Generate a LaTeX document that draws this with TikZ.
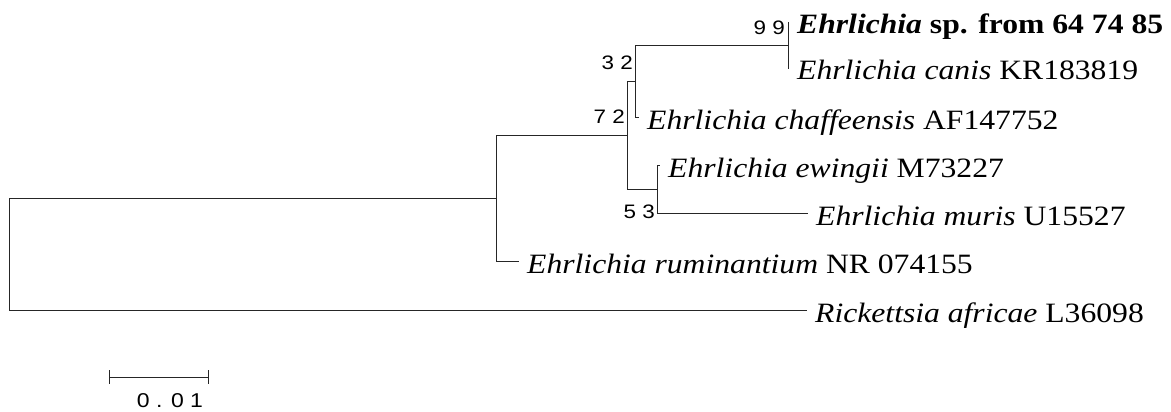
\documentclass[tikz,border=0pt]{standalone}
\usepackage{fontspec}
\setmainfont{Liberation Serif}[FakeStretch=1.13]
\newfontfamily\bootfont{Liberation Sans}[FakeStretch=1.15]
\begin{document}
\begin{tikzpicture}[x=1pt,y=-1pt,
  branch/.style={draw=black!85, line width=0.9pt},
  taxon/.style={anchor=base west, inner sep=0pt, font=\fontsize{28}{32}\selectfont},
  boot/.style={anchor=base east, inner sep=0pt, font=\bootfont\fontsize{19.5}{22}\selectfont},
  scalelbl/.style={anchor=base, inner sep=0pt, font=\bootfont\fontsize{20}{22}\selectfont}]
\useasboundingbox (0,0) rectangle (1171,412);

% internal nodes
\coordinate (root) at (9,254);
\coordinate (nA) at (496,198);
\coordinate (nB) at (627,135);
\coordinate (nC) at (635,81);
\coordinate (nD) at (788,45);
\coordinate (nE) at (657,189);

% leaf tips
\coordinate (tSp)  at (789,22);
\coordinate (tCan) at (789,68);
\coordinate (tCha) at (639,117);
\coordinate (tEwi) at (660,165);
\coordinate (tMur) at (808,213);
\coordinate (tRum) at (519,261);
\coordinate (tRic) at (807,310);

% branches
\path[branch] (root) |- (nA);
\path[branch] (root) |- (tRic);
\path[branch] (nA) |- (nB);
\path[branch] (nA) |- (tRum);
\path[branch] (nB) |- (nC);
\path[branch] (nB) |- (nE);
\path[branch] (nC) |- (nD);
\path[branch] (nC) |- (tCha);
\path[branch] (nD) |- (tSp);
\path[branch] (nD) |- (tCan);
\path[branch] (nE) |- (tEwi);
\path[branch] (nE) |- (tMur);

% taxon labels (baseline 12px below the tip)
\node[taxon] (lSp)  at ([xshift=8pt,yshift=-12pt]tSp)  {\textbf{\textit{Ehrlichia} sp. from 64 74 85}};
\node[taxon] (lCan) at ([xshift=8pt,yshift=-12pt]tCan) {\textit{Ehrlichia canis} KR183819};
\node[taxon] (lCha) at ([xshift=8pt,yshift=-12pt]tCha) {\textit{Ehrlichia chaffeensis} AF147752};
\node[taxon] (lEwi) at ([xshift=8pt,yshift=-12pt]tEwi) {\textit{Ehrlichia ewingii} M73227};
\node[taxon] (lMur) at ([xshift=8pt,yshift=-12pt]tMur) {\textit{Ehrlichia muris} U15527};
\node[taxon] (lRum) at ([xshift=8pt,yshift=-12pt]tRum) {\textit{Ehrlichia ruminantium} NR 074155};
\node[taxon] (lRic) at ([xshift=8pt,yshift=-12pt]tRic) {\textit{Rickettsia africae} L36098};

% bootstrap values
\node[boot] (bD) at (785,35)  {9 9};
\node[boot] (bC) at (633,70)  {3 2};
\node[boot] (bB) at (625,124) {7 2};
\node[boot] (bE) at (655,218) {5 3};

% scale bar
\coordinate (s0) at (109,377);
\coordinate (s1) at (208,377);
\path[branch] (s0) -- (s1);
\path[branch] ([yshift=7pt]s0) -- ([yshift=-7pt]s0);
\path[branch] ([yshift=7pt]s1) -- ([yshift=-7pt]s1);
\node[scalelbl] (sl) at (170,407) {0 . 0 1};
\end{tikzpicture}
\end{document}
